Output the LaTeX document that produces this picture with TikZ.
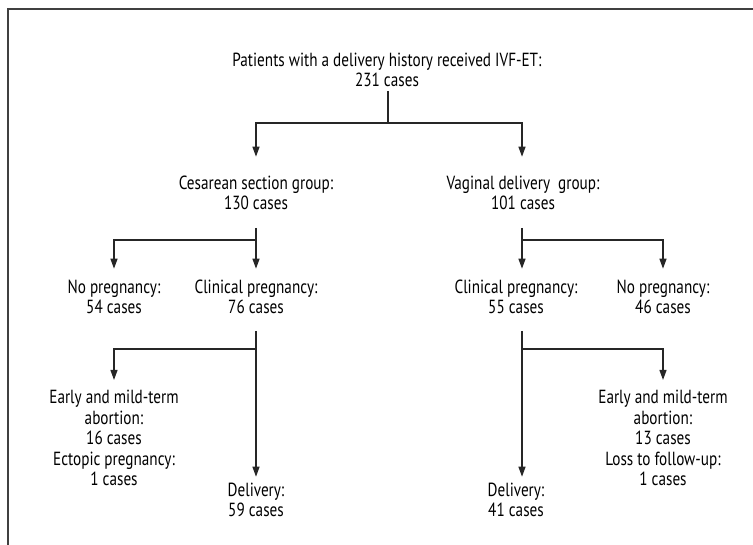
\documentclass[tikz,border=0pt]{standalone}
\usepackage{fontspec}
\setmainfont{PT Sans}[FakeStretch=0.8]
\usetikzlibrary{arrows.meta}

\tikzset{
  flowtext/.style={align=center, inner sep=0pt, font=\fontsize{19}{20.5}\selectfont},
  flowline/.style={line width=1.3pt, draw=black!85},
  flowarrow/.style={flowline, -{Triangle[length=10pt,width=7pt]}},
}

\begin{document}
\begin{tikzpicture}[x=1pt,y=-1pt]
    \useasboundingbox (0,0) rectangle (753,545);
    % frame
    \draw[line width=1.2pt, draw=black!75] (8,545) -- (8,9) -- (753,9);

    % texts
    \node[flowtext] (top) at (387,70) {Patients with a delivery history received IVF-ET:\\231 cases};
    \node[flowtext] (cs) at (256,193) {Cesarean section group:\\130 cases};
    \node[flowtext] (vd) at (523,193) {Vaginal delivery\ \ group:\\101 cases};
    \node[flowtext] (csno) at (114,297) {No pregnancy:\\54 cases};
    \node[flowtext] (cscp) at (256,297) {Clinical pregnancy:\\76 cases};
    \node[flowtext] (vdcp) at (516,297) {Clinical pregnancy:\\55 cases};
    \node[flowtext] (vdno) at (663,297) {No pregnancy:\\46 cases};
    \node[flowtext] (csab) at (114,438) {Early and mild-term\\abortion:\\16 cases\\Ectopic pregnancy:\\1 cases};
    \node[flowtext] (csdl) at (256,500) {Delivery:\\59 cases};
    \node[flowtext] (vdab) at (663,438) {Early and mild-term\\abortion:\\13 cases\\Loss to follow-up:\\1 cases};
    \node[flowtext] (vddl) at (516,500) {Delivery:\\41 cases};

    % junctions
    \coordinate (t0) at (388,91);
    \coordinate (j0) at (388,123);
    \coordinate (t1) at (256,228);
    \coordinate (j1) at (256,240);
    \coordinate (t2) at (522,228);
    \coordinate (j2) at (522,240);
    \coordinate (t3) at (256,331);
    \coordinate (j3) at (256,349);
    \coordinate (t4) at (522,331);
    \coordinate (j4) at (522,349);

    % first level
    \draw[flowline] (t0) -- (j0);
    \draw[flowarrow, shorten >=19pt] (j0) -| (cs.north);
    \draw[flowarrow, shorten >=19pt] (j0) -| (vd.north -| j2);

    % second level
    \draw[flowline] (t1) -- (j1);
    \draw[flowarrow, shorten >=11pt] (j1) -| (csno.north);
    \draw[flowarrow, shorten >=11pt] (j1) -- (cscp.north);
    \draw[flowline] (t2) -- (j2);
    \draw[flowarrow, shorten >=11pt] (j2) -- (vdcp.north -| j2);
    \draw[flowarrow, shorten >=11pt] (j2) -| (vdno.north);

    % third level
    \draw[flowarrow, shorten >=6pt] (t3) -- (csdl.north);
    \draw[flowarrow, shorten >=10pt] (j3) -| (csab.north);
    \draw[flowarrow, shorten >=6pt] (t4) -- (vddl.north -| t4);
    \draw[flowarrow, shorten >=10pt] (j4) -| (vdab.north);
\end{tikzpicture}
\end{document}
